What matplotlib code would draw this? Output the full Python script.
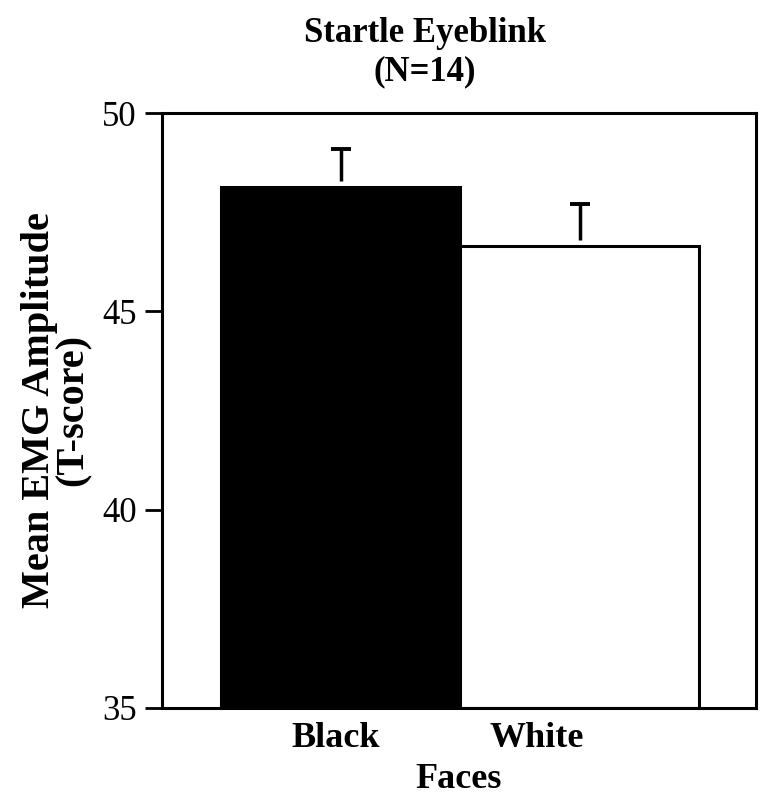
import matplotlib
matplotlib.use('Agg')
import matplotlib.pyplot as plt

# data
groups = ['Black', 'White']
means = [48.13, 46.65]
errors = [0.96, 1.06]
bar_colors = ['black', 'white']
yticks = [35, 40, 45, 50]

plt.rcParams['font.family'] = ['Liberation Serif', 'DejaVu Serif']

fig = plt.figure(figsize=(7.61, 7.97), dpi=100)
ax = fig.add_axes([0.2129, 0.1117, 0.7805, 0.7465])

xpos = list(range(len(groups)))
ax.bar(xpos, [m - 35 for m in means], bottom=35, width=1.0,
       color=bar_colors, edgecolor='black', linewidth=2.2, zorder=2)

# upper-only error bars drawn as a "T" floating just above each bar
tops = [m + e for m, e in zip(means, errors)]
ax.vlines(xpos, [m + 0.15 for m in means], tops, color='black',
          linewidth=2.5, zorder=3)
ax.plot(xpos, tops, linestyle='none', marker='_', markersize=15,
        markeredgewidth=2.8, color='black', zorder=3)

ax.set_xlim(-0.747, 1.738)
ax.set_ylim(35, 50)
ax.set_yticks(yticks)
ax.set_yticklabels([str(t) for t in yticks], fontsize=25)
ax.tick_params(axis='y', direction='out', length=12, width=2, pad=6)

# category labels sit slightly left of the bar centres in the original
ax.set_xticks([-0.02, 0.82])
ax.set_xticklabels(groups, fontsize=26, fontweight='bold')
ax.tick_params(axis='x', length=0, pad=10)
ax.set_xlabel('Faces', fontsize=26, fontweight='bold', labelpad=6)
ax.set_ylabel('Mean EMG Amplitude\n(T-score)', fontsize=29,
              fontweight='bold', labelpad=8, linespacing=0.85)

for side in ['left', 'right', 'top', 'bottom']:
    ax.spines[side].set_linewidth(2.2)

fig.text(425 / 761, 1 - 17 / 797, 'Startle Eyeblink\n(N=14)', ha='center',
         va='top', fontsize=25, fontweight='bold', linespacing=1.2)

fig.savefig('out.png', dpi=100)
